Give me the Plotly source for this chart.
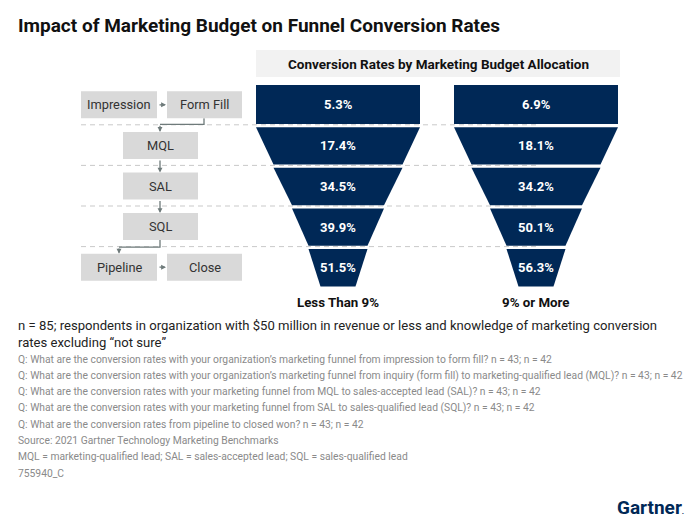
import plotly.graph_objects as go

# ---------------- data ----------------
title_text = "Impact of Marketing Budget on Funnel Conversion Rates"
header_text = "Conversion Rates by Marketing Budget Allocation"
groups = ["Less Than 9%", "9% or More"]
rates_less_than_9 = [5.3, 17.4, 34.5, 39.9, 51.5]
rates_9_or_more = [6.9, 18.1, 34.2, 50.1, 56.3]
flow_rows = [["Impression", "Form Fill"], ["MQL"], ["SAL"], ["SQL"], ["Pipeline", "Close"]]
sample_note = ("n = 85; respondents in organization with $50 million in revenue or less and knowledge of marketing conversion"
               "<br>rates excluding \u201cnot sure\u201d")
footnotes = [
    "Q: What are the conversion rates with your organization\u2019s marketing funnel from impression to form fill? n = 43; n = 42",
    "Q: What are the conversion rates with your organization\u2019s marketing funnel from inquiry (form fill) to marketing-qualified lead (MQL)? n = 43; n = 42",
    "Q: What are the conversion rates with your marketing funnel from MQL to sales-accepted lead (SAL)? n = 43; n = 42",
    "Q: What are the conversion rates with your marketing funnel from SAL to sales-qualified lead (SQL)? n = 43; n = 42",
    "Q: What are the conversion rates from pipeline to closed won? n = 43; n = 42",
    "Source: 2021 Gartner Technology Marketing Benchmarks",
    "MQL = marketing-qualified lead; SAL = sales-accepted lead; SQL = sales-qualified lead",
    "755940_C",
]
brand = "Gartner"

# ---------------- layout geometry / styles ----------------
W, H = 700, 522
NAVY = "#002856"
BOX_GRAY = "#d9d9d9"
ARROW = "#6e7a7a"
DASH = "#c9c9c9"
FONT = "Roboto"

FUNNEL_CENTERS = [338, 536]
SEG_TOP = 85.0
SEG_STEP = 40.6
SEG_GAP = 1.6
HALF_BOTTOM = [82, 64.5, 46, 29.5, 17.5]   # half width at bottom of each segment
HALF_TOP = [82, 82, 64.5, 46, 29.5]

fig = go.Figure()
shapes = []
annotations = []

# dashed separators
for i in range(len(flow_rows) - 1):
    yb = SEG_TOP + (i + 1) * SEG_STEP - SEG_GAP / 2
    shapes.append(dict(type="line", xref="x", yref="y", x0=81, x1=FUNNEL_CENTERS[1], y0=yb, y1=yb,
                       line=dict(color=DASH, width=1, dash="5px,4px"), layer="below"))

# header box
shapes.append(dict(type="rect", xref="x", yref="y", x0=256, x1=620, y0=50, y1=77,
                   fillcolor="#f2f2f2", line=dict(width=0), layer="below"))
annotations.append(dict(x=438, y=63.5, xref="x", yref="y", text=header_text, showarrow=False,
                        font=dict(family=FONT, size=13.5, color="#111", weight=700)))

# funnels
for cx, rates, grp in zip(FUNNEL_CENTERS, [rates_less_than_9, rates_9_or_more], groups):
    for i, r in enumerate(rates):
        y0 = SEG_TOP + i * SEG_STEP + (SEG_GAP if i > 0 else 0)
        y1 = SEG_TOP + (i + 1) * SEG_STEP - SEG_GAP
        ht, hb = HALF_TOP[i], HALF_BOTTOM[i]
        fig.add_trace(go.Scatter(x=[cx - ht, cx + ht, cx + hb, cx - hb, cx - ht],
                                 y=[y0, y0, y1, y1, y0], mode="lines", fill="toself",
                                 fillcolor=NAVY, line=dict(width=0, color=NAVY),
                                 hoverinfo="skip", showlegend=False))
        annotations.append(dict(x=cx, y=(y0 + y1) / 2, xref="x", yref="y", text=f"{r:.1f}%",
                                showarrow=False, font=dict(family=FONT, size=13, color="white", weight=700)))
    annotations.append(dict(x=cx, y=302, xref="x", yref="y", text=grp, showarrow=False,
                            font=dict(family=FONT, size=13.3, color="#111", weight=700)))

# flowchart boxes
BOX_H = 27
col_x = {2: [(81, 157), (167, 242)], 1: [(123, 198)]}
box_pos = {}
for i, row in enumerate(flow_rows):
    yc = SEG_TOP + i * SEG_STEP + SEG_STEP / 2 - 0.5
    for (x0, x1), name in zip(col_x[len(row)], row):
        shapes.append(dict(type="rect", xref="x", yref="y", x0=x0, x1=x1, y0=yc - BOX_H / 2, y1=yc + BOX_H / 2,
                           fillcolor=BOX_GRAY, line=dict(width=0)))
        annotations.append(dict(x=(x0 + x1) / 2, y=yc, xref="x", yref="y", text=name, showarrow=False,
                                font=dict(family=FONT, size=12.8, color="#333")))
        box_pos[name] = (x0, x1, yc - BOX_H / 2, yc + BOX_H / 2)


def arrow(x0, y0, x1, y1):
    annotations.append(dict(x=x1, y=y1, ax=x0, ay=y0, xref="x", yref="y", axref="x", ayref="y",
                            text="", showarrow=True, arrowhead=2, arrowsize=0.75, arrowwidth=1.3,
                            arrowcolor=ARROW, standoff=0))


def path(xs, ys):
    fig.add_trace(go.Scatter(x=xs, y=ys, mode="lines", line=dict(color=ARROW, width=1.3),
                             hoverinfo="skip", showlegend=False))


# horizontal arrows
for a, b in [("Impression", "Form Fill"), ("Pipeline", "Close")]:
    ya = (box_pos[a][2] + box_pos[a][3]) / 2
    arrow(box_pos[a][1] + 1, ya, box_pos[b][0] - 1, ya)
# Form Fill -> MQL
ff, mql = box_pos["Form Fill"], box_pos["MQL"]
xm = (mql[0] + mql[1]) / 2 - 0.5
ymid = ff[3] + 6
path([204, 204, xm], [ff[3], ymid, ymid])
arrow(xm, ymid, xm, mql[2])
# vertical arrows
for a, b in [("MQL", "SAL"), ("SAL", "SQL")]:
    arrow(xm, box_pos[a][3], xm, box_pos[b][2])
# SQL -> Pipeline
sql, pip = box_pos["SQL"], box_pos["Pipeline"]
xp = (pip[0] + pip[1]) / 2
ymid = sql[3] + 7
path([xm, xm, xp], [sql[3], ymid, ymid])
arrow(xp, ymid, xp, pip[2])

# title
annotations.append(dict(x=16, y=25, xref="x", yref="y", xanchor="left", text=title_text, showarrow=False,
                        font=dict(family=FONT, size=19, color="#111", weight=700)))
# notes
annotations.append(dict(x=16, y=334, xref="x", yref="y", xanchor="left", align="left", text=sample_note,
                        showarrow=False, font=dict(family=FONT, size=13.1, color="#222")))
for k, t in enumerate(footnotes):
    annotations.append(dict(x=16, y=359 + k * 16.3, xref="x", yref="y", xanchor="left", text=t,
                            showarrow=False, font=dict(family=FONT, size=10.3, color="#8a8a8a")))
annotations.append(dict(x=686, y=507, xref="x", yref="y", xanchor="right", text=brand + "<span style='font-size:8px'>.</span>",
                        showarrow=False, font=dict(family=FONT, size=19, color=NAVY, weight=700)))

fig.update_layout(
    width=W, height=H, margin=dict(l=0, r=0, t=0, b=0),
    paper_bgcolor="white", plot_bgcolor="white",
    xaxis=dict(range=[0, W], visible=False, fixedrange=True),
    yaxis=dict(range=[H, 0], visible=False, fixedrange=True),
    shapes=shapes, annotations=annotations, showlegend=False,
)
fig.write_html("out.html", config={"displayModeBar": False},
               post_script="document.body.style.margin='0';document.body.style.overflow='hidden';")
